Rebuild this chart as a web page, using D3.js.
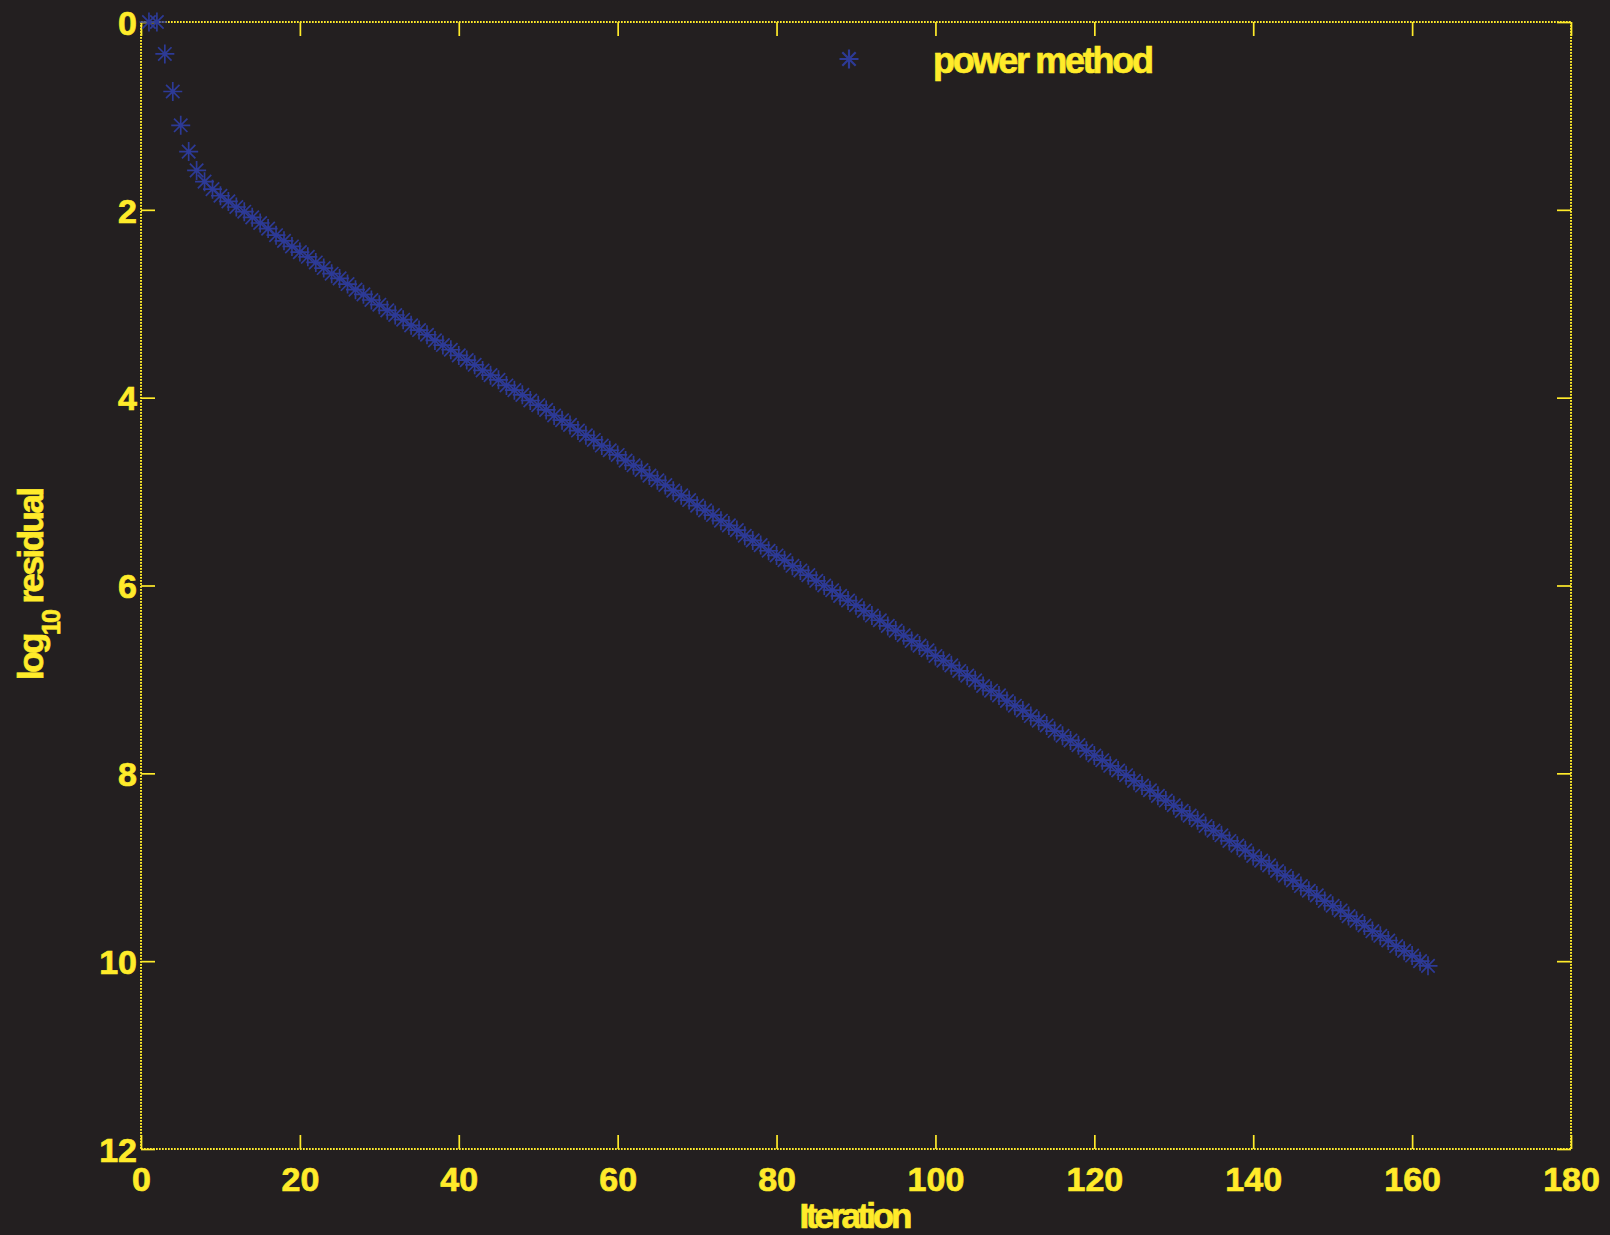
<!DOCTYPE html>
<html>
<head>
<meta charset="utf-8">
<script src="https://cdn.jsdelivr.net/npm/d3@7"></script>
<style>
    body { margin: 0; background: #231f20; }
    svg { display: block; }
    .lbl { font-family: "Liberation Sans", Arial, Helvetica, sans-serif; font-weight: bold; fill: #ffeb2a; stroke: #ffeb2a; stroke-width: 0.7px; }
</style>
</head>
<body>
<div id="chart"></div>
<script>
// log10 of the residual for each power method iteration (iteration = index + 1)
const residual = [
    0.00, 0.00, 0.34, 0.74, 1.10, 1.38, 1.58, 1.70, 1.78, 1.85,
    1.91, 1.97, 2.02, 2.08, 2.14, 2.20, 2.27, 2.33, 2.39, 2.45,
    2.50, 2.56, 2.62, 2.68, 2.73, 2.79, 2.85, 2.90, 2.96, 3.01,
    3.07, 3.12, 3.17, 3.23, 3.28, 3.33, 3.39, 3.44, 3.49, 3.55,
    3.60, 3.65, 3.71, 3.76, 3.81, 3.87, 3.92, 3.97, 4.03, 4.08,
    4.13, 4.19, 4.24, 4.29, 4.35, 4.40, 4.45, 4.51, 4.56, 4.61,
    4.67, 4.72, 4.77, 4.83, 4.88, 4.93, 4.99, 5.04, 5.09, 5.15,
    5.20, 5.25, 5.31, 5.36, 5.41, 5.47, 5.52, 5.57, 5.63, 5.68,
    5.73, 5.79, 5.84, 5.89, 5.95, 6.00, 6.05, 6.11, 6.16, 6.21,
    6.27, 6.32, 6.37, 6.43, 6.48, 6.53, 6.59, 6.64, 6.69, 6.75,
    6.80, 6.85, 6.91, 6.96, 7.01, 7.07, 7.12, 7.17, 7.23, 7.28,
    7.33, 7.39, 7.44, 7.49, 7.55, 7.60, 7.65, 7.70, 7.76, 7.81,
    7.86, 7.92, 7.97, 8.02, 8.08, 8.13, 8.18, 8.24, 8.29, 8.34,
    8.40, 8.45, 8.50, 8.56, 8.61, 8.66, 8.72, 8.77, 8.82, 8.88,
    8.93, 8.98, 9.04, 9.09, 9.14, 9.20, 9.25, 9.30, 9.36, 9.41,
    9.46, 9.52, 9.57, 9.62, 9.68, 9.73, 9.78, 9.84, 9.89, 9.94,
    10.00, 10.05
];
const xTicks = [0, 20, 40, 60, 80, 100, 120, 140, 160, 180];
const yTicks = [0, 2, 4, 6, 8, 10, 12];
const seriesName = "power method";

const points = residual.map((v, i) => ({it: i + 1, v: v}));

const margin = {top: 22, right: 39, bottom: 86, left: 141};
const width = 1610 - margin.left - margin.right;
const height = 1235 - margin.top - margin.bottom;

const yellow = "#ffeb2a";
const blue = "#2d3a96";

const svg = d3.select("#chart").append("svg")
    .attr("width", 1610)
    .attr("height", 1235)
    .append("g")
    .attr("transform", "translate(" + margin.left + "," + margin.top + ")");

const x = d3.scaleLinear().domain([0, 180]).range([0, width]);
const y = d3.scaleLinear().domain([0, 12]).range([0, height]);   // reversed axis, 0 on top

// dotted box
const box = [[0, 0, width, 0], [0, height, width, height], [0, 0, 0, height], [width, 0, width, height]];
svg.selectAll(".box").data(box).enter().append("line")
    .attr("class", "box")
    .attr("x1", d => d[0]).attr("y1", d => d[1])
    .attr("x2", d => d[2]).attr("y2", d => d[3])
    .attr("stroke", yellow)
    .attr("stroke-width", 2)
    .attr("stroke-dasharray", "1.7,1.3");

function styleAxis(g) {
    g.select(".domain").remove();
    g.selectAll(".tick line").attr("stroke", yellow).attr("stroke-width", 1.7);
}

const xAxis = svg.append("g")
    .attr("transform", "translate(0," + height + ")")
    .call(d3.axisBottom(x).tickValues(xTicks).tickSizeInner(-14).tickSizeOuter(0))
    .call(styleAxis);
xAxis.selectAll(".tick text")
    .attr("class", "lbl")
    .attr("y", 42).attr("dy", null)
    .style("font-size", "34px");

svg.append("g")
    .call(d3.axisTop(x).tickValues(xTicks).tickSizeInner(-14).tickSizeOuter(0).tickFormat(""))
    .call(styleAxis);

const yAxis = svg.append("g")
    .call(d3.axisLeft(y).tickValues(yTicks).tickSizeInner(-14).tickSizeOuter(0))
    .call(styleAxis);
yAxis.selectAll(".tick text")
    .attr("class", "lbl")
    .attr("x", -4).attr("dy", "0.36em")
    .style("font-size", "34px");

svg.append("g")
    .attr("transform", "translate(" + width + ",0)")
    .call(d3.axisRight(y).tickValues(yTicks).tickSizeInner(-14).tickSizeOuter(0).tickFormat(""))
    .call(styleAxis);

svg.selectAll("text").attr("fill", yellow);

// axis titles
svg.append("text")
    .attr("class", "lbl")
    .attr("x", width / 2)
    .attr("y", 1228 - margin.top)
    .attr("text-anchor", "middle")
    .attr("textLength", 113)
    .style("font-size", "35px")
    .text("Iteration");

const ylab = svg.append("text")
    .attr("class", "lbl")
    .attr("transform", "translate(" + (43 - margin.left) + "," + (680 - margin.top) + ") rotate(-90)")
    .style("font-size", "35px")
    .style("letter-spacing", "-2.5px");
ylab.append("tspan").text("log");
ylab.append("tspan").attr("dy", 17).style("font-size", "25px").style("letter-spacing", "-1.8px").text("10");
ylab.append("tspan").attr("dy", -17).text(" residual");

// asterisk marker
const star = "M-9.5,0H9.5M0,-9.5V9.5M-6.7,-6.7L6.7,6.7M-6.7,6.7L6.7,-6.7";

svg.append("g").selectAll(".pt").data(points).enter().append("path")
    .attr("class", "pt")
    .attr("d", star)
    .attr("transform", d => "translate(" + x(d.it) + "," + y(d.v) + ")")
    .attr("fill", "none")
    .attr("stroke", blue)
    .attr("stroke-width", 1.7);

// legend
const legend = svg.append("g")
    .attr("transform", "translate(" + (849 - margin.left) + "," + (59 - margin.top) + ")");
legend.append("path")
    .attr("d", star)
    .attr("fill", "none")
    .attr("stroke", blue)
    .attr("stroke-width", 2.2);
legend.append("text")
    .attr("class", "lbl")
    .attr("x", 84)
    .attr("y", 14)
    .attr("textLength", 221)
    .style("font-size", "36px")
    .text(seriesName);
</script>
</body>
</html>
